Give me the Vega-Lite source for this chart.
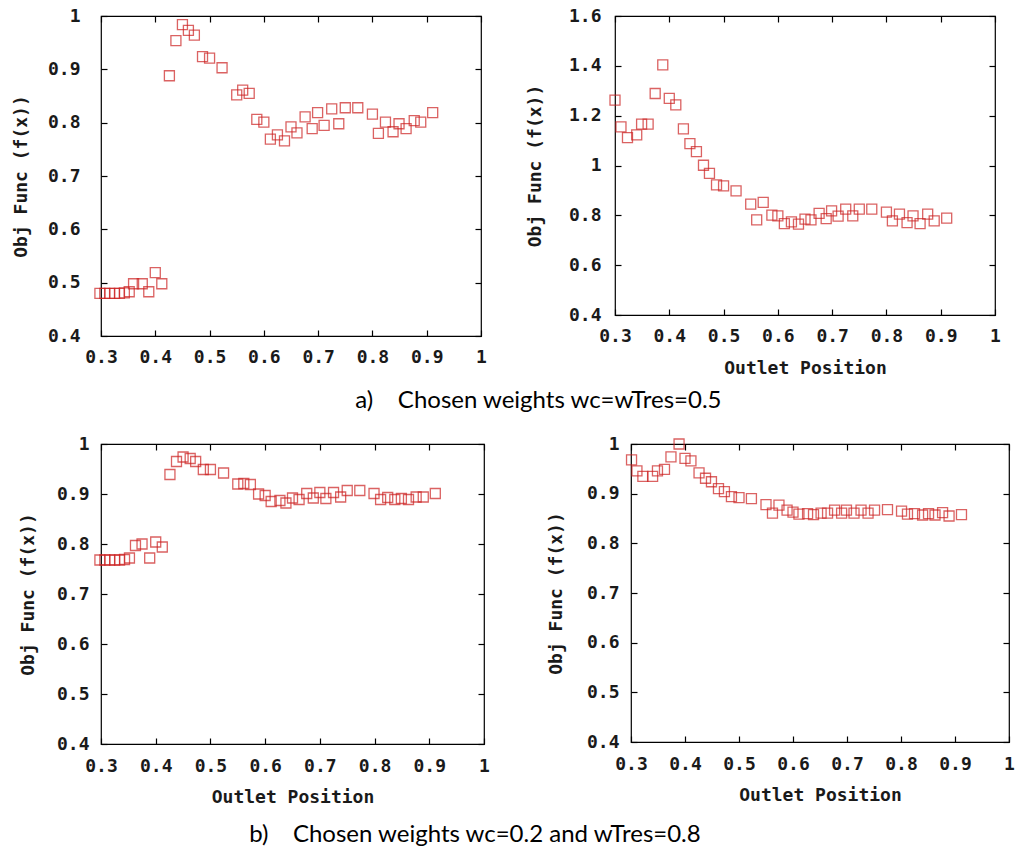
{
  "$schema": "https://vega.github.io/schema/vega-lite/v6.json",
  "background": "white",
  "padding": {"left": 11, "top": 6, "right": 0, "bottom": 0},
  "config": {
    "axis": {
      "labelFont": "DejaVu Sans Mono", "labelFontWeight": "bold", "labelFontSize": 18, "labelColor": "#1a1a1a",
      "titleFont": "DejaVu Sans Mono", "titleFontWeight": "bold", "titleFontSize": 18, "titleColor": "#1a1a1a",
      "ticks": true, "tickSize": 6, "tickWidth": 1.2, "offset": -6,
      "domain": false, "grid": false, "format": "~g", "labelFlush": false, "labelOverlap": false
    }
  },
  "datasets": {
    "a1": [
      {"pos": 0.298, "f": 0.480}, {"pos": 0.307, "f": 0.480}, {"pos": 0.316, "f": 0.480}, {"pos": 0.325, "f": 0.480},
      {"pos": 0.334, "f": 0.480}, {"pos": 0.343, "f": 0.481}, {"pos": 0.352, "f": 0.483}, {"pos": 0.360, "f": 0.498},
      {"pos": 0.376, "f": 0.498}, {"pos": 0.388, "f": 0.483}, {"pos": 0.400, "f": 0.519}, {"pos": 0.412, "f": 0.498},
      {"pos": 0.426, "f": 0.888}, {"pos": 0.438, "f": 0.954}, {"pos": 0.450, "f": 0.984}, {"pos": 0.461, "f": 0.973},
      {"pos": 0.472, "f": 0.964}, {"pos": 0.487, "f": 0.924}, {"pos": 0.500, "f": 0.921}, {"pos": 0.523, "f": 0.903},
      {"pos": 0.550, "f": 0.852}, {"pos": 0.561, "f": 0.861}, {"pos": 0.573, "f": 0.855}, {"pos": 0.587, "f": 0.806},
      {"pos": 0.600, "f": 0.801}, {"pos": 0.612, "f": 0.769}, {"pos": 0.625, "f": 0.777}, {"pos": 0.638, "f": 0.766},
      {"pos": 0.650, "f": 0.792}, {"pos": 0.661, "f": 0.781}, {"pos": 0.676, "f": 0.811}, {"pos": 0.689, "f": 0.789},
      {"pos": 0.699, "f": 0.819}, {"pos": 0.711, "f": 0.795}, {"pos": 0.725, "f": 0.826}, {"pos": 0.738, "f": 0.798},
      {"pos": 0.750, "f": 0.828}, {"pos": 0.773, "f": 0.828}, {"pos": 0.800, "f": 0.816}, {"pos": 0.811, "f": 0.780},
      {"pos": 0.824, "f": 0.801}, {"pos": 0.838, "f": 0.783}, {"pos": 0.849, "f": 0.798}, {"pos": 0.862, "f": 0.789},
      {"pos": 0.877, "f": 0.804}, {"pos": 0.889, "f": 0.801}, {"pos": 0.911, "f": 0.819}
    ],
    "a2": [
      {"pos": 0.300, "f": 1.262}, {"pos": 0.311, "f": 1.155}, {"pos": 0.323, "f": 1.112}, {"pos": 0.340, "f": 1.123},
      {"pos": 0.349, "f": 1.166}, {"pos": 0.361, "f": 1.166}, {"pos": 0.374, "f": 1.289}, {"pos": 0.388, "f": 1.404},
      {"pos": 0.400, "f": 1.269}, {"pos": 0.412, "f": 1.243}, {"pos": 0.426, "f": 1.147}, {"pos": 0.438, "f": 1.088},
      {"pos": 0.450, "f": 1.056}, {"pos": 0.463, "f": 1.001}, {"pos": 0.474, "f": 0.968}, {"pos": 0.487, "f": 0.922},
      {"pos": 0.500, "f": 0.918}, {"pos": 0.523, "f": 0.898}, {"pos": 0.550, "f": 0.845}, {"pos": 0.561, "f": 0.782},
      {"pos": 0.573, "f": 0.852}, {"pos": 0.589, "f": 0.801}, {"pos": 0.600, "f": 0.798}, {"pos": 0.612, "f": 0.767},
      {"pos": 0.625, "f": 0.774}, {"pos": 0.638, "f": 0.765}, {"pos": 0.650, "f": 0.785}, {"pos": 0.661, "f": 0.782},
      {"pos": 0.676, "f": 0.808}, {"pos": 0.689, "f": 0.787}, {"pos": 0.699, "f": 0.818}, {"pos": 0.711, "f": 0.797},
      {"pos": 0.725, "f": 0.825}, {"pos": 0.738, "f": 0.798}, {"pos": 0.750, "f": 0.825}, {"pos": 0.773, "f": 0.825},
      {"pos": 0.800, "f": 0.813}, {"pos": 0.811, "f": 0.778}, {"pos": 0.824, "f": 0.805}, {"pos": 0.838, "f": 0.771},
      {"pos": 0.849, "f": 0.798}, {"pos": 0.862, "f": 0.767}, {"pos": 0.876, "f": 0.805}, {"pos": 0.888, "f": 0.778},
      {"pos": 0.911, "f": 0.789}
    ],
    "b1": [
      {"pos": 0.298, "f": 0.768}, {"pos": 0.307, "f": 0.768}, {"pos": 0.316, "f": 0.768}, {"pos": 0.325, "f": 0.768},
      {"pos": 0.334, "f": 0.768}, {"pos": 0.343, "f": 0.769}, {"pos": 0.352, "f": 0.772}, {"pos": 0.363, "f": 0.797},
      {"pos": 0.375, "f": 0.800}, {"pos": 0.389, "f": 0.772}, {"pos": 0.400, "f": 0.804}, {"pos": 0.412, "f": 0.794},
      {"pos": 0.426, "f": 0.939}, {"pos": 0.438, "f": 0.965}, {"pos": 0.450, "f": 0.974}, {"pos": 0.463, "f": 0.971},
      {"pos": 0.473, "f": 0.965}, {"pos": 0.487, "f": 0.949}, {"pos": 0.500, "f": 0.949}, {"pos": 0.524, "f": 0.942},
      {"pos": 0.550, "f": 0.920}, {"pos": 0.561, "f": 0.921}, {"pos": 0.573, "f": 0.919}, {"pos": 0.588, "f": 0.900},
      {"pos": 0.600, "f": 0.897}, {"pos": 0.611, "f": 0.885}, {"pos": 0.627, "f": 0.887}, {"pos": 0.638, "f": 0.882},
      {"pos": 0.650, "f": 0.892}, {"pos": 0.662, "f": 0.889}, {"pos": 0.676, "f": 0.901}, {"pos": 0.688, "f": 0.892},
      {"pos": 0.700, "f": 0.903}, {"pos": 0.711, "f": 0.891}, {"pos": 0.725, "f": 0.903}, {"pos": 0.738, "f": 0.894},
      {"pos": 0.750, "f": 0.907}, {"pos": 0.773, "f": 0.907}, {"pos": 0.799, "f": 0.901}, {"pos": 0.811, "f": 0.889},
      {"pos": 0.824, "f": 0.893}, {"pos": 0.837, "f": 0.889}, {"pos": 0.849, "f": 0.891}, {"pos": 0.862, "f": 0.889},
      {"pos": 0.876, "f": 0.894}, {"pos": 0.889, "f": 0.894}, {"pos": 0.911, "f": 0.901}
    ],
    "b2": [
      {"pos": 0.301, "f": 0.968}, {"pos": 0.311, "f": 0.946}, {"pos": 0.322, "f": 0.935}, {"pos": 0.340, "f": 0.935},
      {"pos": 0.349, "f": 0.946}, {"pos": 0.362, "f": 0.949}, {"pos": 0.374, "f": 0.974}, {"pos": 0.389, "f": 1.000},
      {"pos": 0.400, "f": 0.971}, {"pos": 0.411, "f": 0.966}, {"pos": 0.426, "f": 0.942}, {"pos": 0.438, "f": 0.931},
      {"pos": 0.449, "f": 0.924}, {"pos": 0.462, "f": 0.910}, {"pos": 0.473, "f": 0.904}, {"pos": 0.486, "f": 0.894},
      {"pos": 0.500, "f": 0.892}, {"pos": 0.523, "f": 0.890}, {"pos": 0.550, "f": 0.878}, {"pos": 0.562, "f": 0.861},
      {"pos": 0.574, "f": 0.877}, {"pos": 0.589, "f": 0.867}, {"pos": 0.600, "f": 0.863}, {"pos": 0.611, "f": 0.859},
      {"pos": 0.627, "f": 0.860}, {"pos": 0.638, "f": 0.858}, {"pos": 0.652, "f": 0.861}, {"pos": 0.664, "f": 0.861},
      {"pos": 0.677, "f": 0.867}, {"pos": 0.690, "f": 0.861}, {"pos": 0.699, "f": 0.867}, {"pos": 0.713, "f": 0.861},
      {"pos": 0.726, "f": 0.867}, {"pos": 0.739, "f": 0.861}, {"pos": 0.751, "f": 0.867}, {"pos": 0.775, "f": 0.868},
      {"pos": 0.801, "f": 0.865}, {"pos": 0.812, "f": 0.859}, {"pos": 0.825, "f": 0.860}, {"pos": 0.840, "f": 0.857},
      {"pos": 0.851, "f": 0.860}, {"pos": 0.863, "f": 0.857}, {"pos": 0.877, "f": 0.862}, {"pos": 0.889, "f": 0.855},
      {"pos": 0.912, "f": 0.858}
    ]
  },
  "columns": 1,
  "align": "none",
  "spacing": 21,
  "concat": [
    {
      "spacing": 37,
      "title": {"text": "a)\u00a0\u00a0\u00a0\u00a0Chosen weights wc=wTres=0.5", "orient": "bottom", "anchor": "middle", "font": "Lato", "fontSize": 24, "fontWeight": "normal", "color": "#000000", "offset": 11, "dx": 32},
      "hconcat": [
        {
          "width": 380, "height": 320,
          "view": {"stroke": "#000000", "strokeWidth": 1.2},
          "data": {"name": "a1"},
          "layer": [
            {
              "mark": {"type": "point", "shape": "square", "filled": false, "size": 100, "color": "#cc2020", "strokeWidth": 1.3, "clip": false},
              "encoding": {
                "x": {"field": "pos", "type": "quantitative", "scale": {"domain": [0.3, 1], "nice": false, "zero": false},
                      "axis": {"orient": "bottom", "title": null, "values": [0.3, 0.4, 0.5, 0.6, 0.7, 0.8, 0.9, 1], "labelPadding": 12, "tickColor": "#000000", "tickWidth": 1.2}},
                "y": {"field": "f", "type": "quantitative", "scale": {"domain": [0.4, 1], "nice": false, "zero": false},
                      "axis": {"orient": "left", "title": "Obj Func (f(x))", "values": [0.4, 0.5, 0.6, 0.7, 0.8, 0.9, 1], "labelPadding": 21, "titlePadding": 17, "tickColor": "#000000", "tickWidth": 1.2}}
              }
            },
            {
              "mark": {"type": "point", "opacity": 0},
              "encoding": {
                "x": {"field": "pos", "type": "quantitative", "axis": {"orient": "top", "title": null, "labels": false, "values": [0.3, 0.4, 0.5, 0.6, 0.7, 0.8, 0.9, 1], "tickColor": "#000000", "tickWidth": 1.2}},
                "y": {"field": "f", "type": "quantitative", "axis": {"orient": "right", "title": null, "labels": false, "values": [0.4, 0.5, 0.6, 0.7, 0.8, 0.9, 1], "tickColor": "#000000", "tickWidth": 1.2}}
              }
            }
          ],
          "resolve": {"axis": {"x": "independent", "y": "independent"}}
        },
        {
          "width": 380, "height": 299,
          "view": {"stroke": "#000000", "strokeWidth": 1.2},
          "data": {"name": "a2"},
          "layer": [
            {
              "mark": {"type": "point", "shape": "square", "filled": false, "size": 100, "color": "#cc2020", "strokeWidth": 1.3, "clip": false},
              "encoding": {
                "x": {"field": "pos", "type": "quantitative", "scale": {"domain": [0.3, 1], "nice": false, "zero": false},
                      "axis": {"orient": "bottom", "title": "Outlet Position", "values": [0.3, 0.4, 0.5, 0.6, 0.7, 0.8, 0.9, 1], "labelPadding": 12, "titlePadding": 14, "tickColor": "#000000", "tickWidth": 1.2}},
                "y": {"field": "f", "type": "quantitative", "scale": {"domain": [0.4, 1.6], "nice": false, "zero": false},
                      "axis": {"orient": "left", "title": "Obj Func (f(x))", "values": [0.4, 0.6, 0.8, 1, 1.2, 1.4, 1.6], "labelPadding": 14, "titlePadding": 24, "tickColor": "#000000", "tickWidth": 1.2}}
              }
            },
            {
              "mark": {"type": "point", "opacity": 0},
              "encoding": {
                "x": {"field": "pos", "type": "quantitative", "axis": {"orient": "top", "title": null, "labels": false, "values": [0.3, 0.4, 0.5, 0.6, 0.7, 0.8, 0.9, 1], "tickColor": "#000000", "tickWidth": 1.2}},
                "y": {"field": "f", "type": "quantitative", "axis": {"orient": "right", "title": null, "labels": false, "values": [0.4, 0.6, 0.8, 1, 1.2, 1.4, 1.6], "tickColor": "#000000", "tickWidth": 1.2}}
              }
            }
          ],
          "resolve": {"axis": {"x": "independent", "y": "independent"}}
        }
      ]
    },
    {
      "spacing": 55,
      "title": {"text": "b)\u00a0\u00a0\u00a0\u00a0Chosen weights wc=0.2 and wTres=0.8", "orient": "bottom", "anchor": "middle", "font": "Lato", "fontSize": 24, "fontWeight": "normal", "color": "#000000", "offset": 16, "dx": -42},
      "hconcat": [
        {
          "width": 383, "height": 300,
          "view": {"stroke": "#000000", "strokeWidth": 1.2},
          "data": {"name": "b1"},
          "layer": [
            {
              "mark": {"type": "point", "shape": "square", "filled": false, "size": 100, "color": "#cc2020", "strokeWidth": 1.3, "clip": false},
              "encoding": {
                "x": {"field": "pos", "type": "quantitative", "scale": {"domain": [0.3, 1], "nice": false, "zero": false},
                      "axis": {"orient": "bottom", "title": "Outlet Position", "values": [0.3, 0.4, 0.5, 0.6, 0.7, 0.8, 0.9, 1], "labelPadding": 13, "titlePadding": 13, "tickColor": "#000000", "tickWidth": 1.2}},
                "y": {"field": "f", "type": "quantitative", "scale": {"domain": [0.4, 1], "nice": false, "zero": false},
                      "axis": {"orient": "left", "title": "Obj Func (f(x))", "values": [0.4, 0.5, 0.6, 0.7, 0.8, 0.9, 1], "labelPadding": 12, "titlePadding": 19, "tickColor": "#000000", "tickWidth": 1.2}}
              }
            },
            {
              "mark": {"type": "point", "opacity": 0},
              "encoding": {
                "x": {"field": "pos", "type": "quantitative", "axis": {"orient": "top", "title": null, "labels": false, "values": [0.3, 0.4, 0.5, 0.6, 0.7, 0.8, 0.9, 1], "tickColor": "#000000", "tickWidth": 1.2}},
                "y": {"field": "f", "type": "quantitative", "axis": {"orient": "right", "title": null, "labels": false, "values": [0.4, 0.5, 0.6, 0.7, 0.8, 0.9, 1], "tickColor": "#000000", "tickWidth": 1.2}}
              }
            }
          ],
          "resolve": {"axis": {"x": "independent", "y": "independent"}}
        },
        {
          "width": 378, "height": 298,
          "view": {"stroke": "#000000", "strokeWidth": 1.2},
          "data": {"name": "b2"},
          "layer": [
            {
              "mark": {"type": "point", "shape": "square", "filled": false, "size": 100, "color": "#cc2020", "strokeWidth": 1.3, "clip": false},
              "encoding": {
                "x": {"field": "pos", "type": "quantitative", "scale": {"domain": [0.3, 1], "nice": false, "zero": false},
                      "axis": {"orient": "bottom", "title": "Outlet Position", "values": [0.3, 0.4, 0.5, 0.6, 0.7, 0.8, 0.9, 1], "labelPadding": 13, "titlePadding": 13, "tickColor": "#000000", "tickWidth": 1.2}},
                "y": {"field": "f", "type": "quantitative", "scale": {"domain": [0.4, 1], "nice": false, "zero": false},
                      "axis": {"orient": "left", "title": "Obj Func (f(x))", "values": [0.4, 0.5, 0.6, 0.7, 0.8, 0.9, 1], "labelPadding": 12, "titlePadding": 21, "tickColor": "#000000", "tickWidth": 1.2}}
              }
            },
            {
              "mark": {"type": "point", "opacity": 0},
              "encoding": {
                "x": {"field": "pos", "type": "quantitative", "axis": {"orient": "top", "title": null, "labels": false, "values": [0.3, 0.4, 0.5, 0.6, 0.7, 0.8, 0.9, 1], "tickColor": "#000000", "tickWidth": 1.2}},
                "y": {"field": "f", "type": "quantitative", "axis": {"orient": "right", "title": null, "labels": false, "values": [0.4, 0.5, 0.6, 0.7, 0.8, 0.9, 1], "tickColor": "#000000", "tickWidth": 1.2}}
              }
            }
          ],
          "resolve": {"axis": {"x": "independent", "y": "independent"}}
        }
      ]
    }
  ]
}
